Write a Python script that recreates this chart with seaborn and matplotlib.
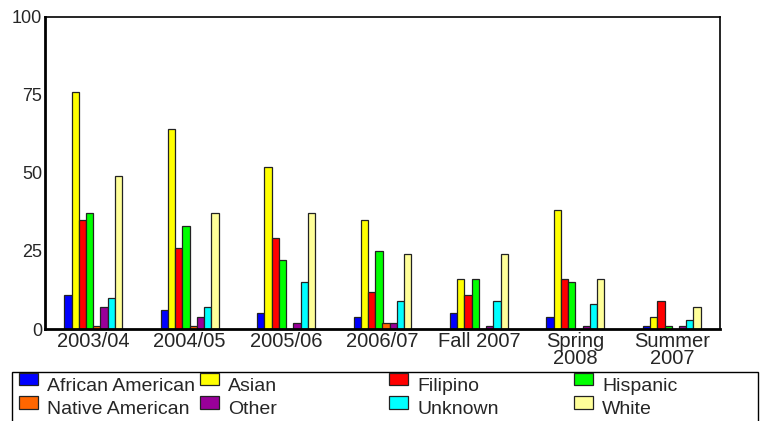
import matplotlib
matplotlib.use("Agg")
import matplotlib.pyplot as plt
import matplotlib.patches as mpatches
from matplotlib.legend_handler import HandlerPatch
import seaborn as sns
import pandas as pd

categories = ["2003/04", "2004/05", "2005/06", "2006/07", "Fall 2007", "Spring 2008", "Summer 2007"]
tick_labels = ["2003/04", "2004/05", "2005/06", "2006/07", "Fall 2007", "Spring\n2008", "Summer\n2007"]
groups = ["African American", "Asian", "Filipino", "Hispanic",
          "Native American", "Other", "Unknown", "White"]
african_american = [11, 6, 5, 4, 5, 4, 1]
asian = [76, 64, 52, 35, 16, 38, 4]
filipino = [35, 26, 29, 12, 11, 16, 9]
hispanic = [37, 33, 22, 25, 16, 15, 1]
native_american = [1, 1, 0, 2, 0, 0, 0]
other = [7, 4, 2, 2, 1, 1, 1]
unknown = [10, 7, 15, 9, 9, 8, 3]
white = [49, 37, 37, 24, 24, 16, 7]
colors = ["#0000FF", "#FFFF00", "#FF0000", "#00FF00",
          "#FF6600", "#990099", "#00FFFF", "#FFFF99"]
y_ticks = [0, 25, 50, 75, 100]

series = [african_american, asian, filipino, hispanic,
          native_american, other, unknown, white]
rows = []
for g, vals in zip(groups, series):
    for c, v in zip(categories, vals):
        rows.append({"term": c, "group": g, "value": v})
df = pd.DataFrame(rows)

sns.set_theme(style="white")
plt.rcParams["font.family"] = ["Liberation Sans", "DejaVu Sans"]

W, H = 766, 421
fig = plt.figure(figsize=(W / 100, H / 100), dpi=100)
ax = fig.add_axes([45 / W, 1 - 329 / H, (720 - 45) / W, (329 - 16.5) / H])
sns.barplot(data=df, x="term", y="value", hue="group", order=categories,
            hue_order=groups, palette=colors, width=0.6, edgecolor="#222222",
            linewidth=0.9, saturation=1, ax=ax, legend=True, errorbar=None)

ax.set_ylim(0, 100)
ax.set_xlim(-0.5, len(categories) - 0.5)
ax.set_yticks(y_ticks)
ax.set_yticklabels([str(t) for t in y_ticks], fontsize=13)
ax.set_xticks(range(len(categories)))
ax.set_xticklabels(tick_labels, fontsize=14.5, linespacing=0.9)
ax.tick_params(axis="both", length=0, pad=2)
ax.set_xlabel("")
ax.set_ylabel("")
for s in ax.spines.values():
    s.set_color("black")
    s.set_linewidth(1.2)
ax.spines["left"].set_linewidth(2.0)
ax.spines["bottom"].set_linewidth(2.0)

handles, labels = ax.get_legend_handles_labels()
ax.get_legend().remove()

frame = mpatches.Rectangle((12 / W, -0.05), (758 - 12) / W, 0.05 + 1 - 372 / H,
                           transform=fig.transFigure, facecolor="white",
                           edgecolor="black", linewidth=1.0, zorder=0)
fig.patches.append(frame)


def raised_rect(legend, orig_handle, xdescent, ydescent, width, height, fontsize):
    return mpatches.Rectangle((-xdescent, -ydescent + 3.5), width, height)


handler = HandlerPatch(patch_func=raised_rect)
col_x = [19, 200, 389, 574]
for j, x in enumerate(col_x):
    idx = [j, j + 4]
    fig.legend([handles[i] for i in idx], [labels[i] for i in idx],
               loc="upper left", bbox_to_anchor=(x / W, 1 - 378 / H),
               frameon=False, borderaxespad=0, borderpad=0, fontsize=14,
               handlelength=1.0, handleheight=0.6, handletextpad=0.45,
               labelspacing=0.32,
               handler_map={mpatches.Rectangle: handler})

fig.savefig("out.png", dpi=100)
